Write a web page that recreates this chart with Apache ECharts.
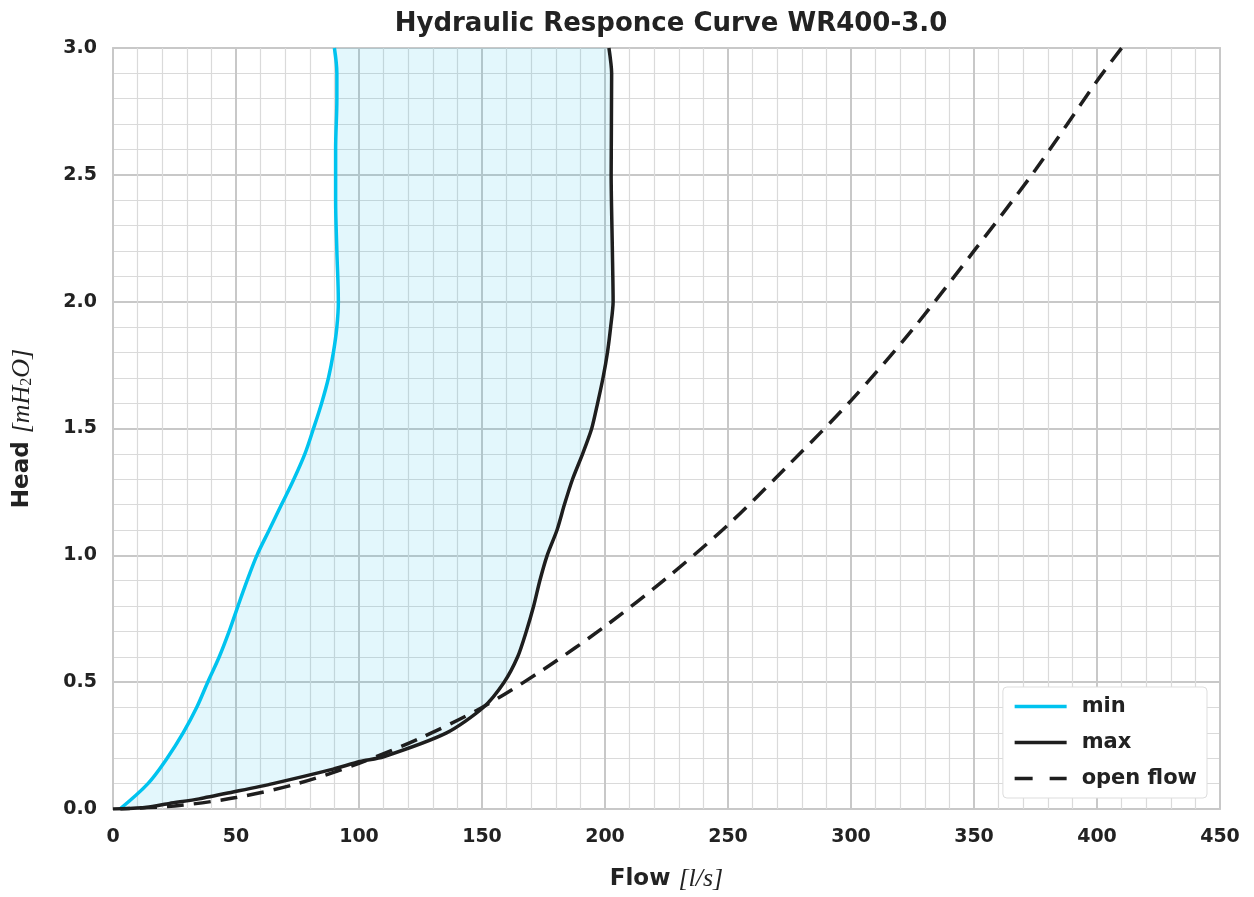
<!DOCTYPE html>
<html><head><meta charset="utf-8">
<script src="https://cdn.jsdelivr.net/npm/echarts@6/dist/echarts.min.js"></script>
<style>html,body{margin:0;padding:0;background:#fff}#c{width:1254px;height:897px}</style>
</head><body><div id="c"></div>
<script>
// min curve (flow l/s, head m)
var minFlow = [2.8, 14.2, 22, 28.5, 34, 38.5, 43.2, 47.2, 50.8, 54.5, 58.5, 63.5, 68.5, 73.5, 78, 81.5, 84.8, 87.6, 89.6, 91, 91.6, 91, 90.5, 90.5, 91, 91, 90];
var minHead = [0, 0.1, 0.2, 0.3, 0.4, 0.5, 0.6, 0.7, 0.8, 0.9, 1.0, 1.1, 1.2, 1.3, 1.4, 1.5, 1.6, 1.7, 1.8, 1.9, 2.0, 2.2, 2.4, 2.6, 2.8, 2.9, 3.0];
// max curve
var maxFlow = [3, 13.7, 23, 35, 48.8, 65, 89.5, 100.4, 110, 135.6, 150.5, 159, 164.5, 168, 171, 173.5, 176.5, 180.5, 183.5, 186.8, 190.9, 194.6, 197, 199.2, 201, 202.3, 203.3, 203, 202.5, 202.7, 201.6];
var maxHead = [0, 0.007, 0.022, 0.04, 0.067, 0.1, 0.157, 0.187, 0.206, 0.30, 0.40, 0.5, 0.6, 0.7, 0.8, 0.9, 1.0, 1.1, 1.2, 1.3, 1.4, 1.5, 1.6, 1.7, 1.8, 1.9, 2.0, 2.2, 2.5, 2.9, 3.0];
// open flow curve
var openFlow = [0, 25, 50, 75, 100, 125, 150, 175, 200, 225, 250, 275, 300, 325, 350, 375, 400, 410];
var openHead = [0, 0.012, 0.045, 0.10, 0.18, 0.28, 0.40, 0.55, 0.72, 0.91, 1.12, 1.36, 1.61, 1.89, 2.20, 2.52, 2.87, 3.0];

var xTicks = [0, 50, 100, 150, 200, 250, 300, 350, 400, 450];
var yTicks = [0.0, 0.5, 1.0, 1.5, 2.0, 2.5, 3.0];

function zip(a, b) { return a.map(function (v, i) { return [v, b[i]]; }); }

var FONT = 'DejaVu Sans';
var chart = echarts.init(document.getElementById('c'));
chart.setOption({
  backgroundColor: '#fff',
  animation: false,
  title: {
    text: 'Hydraulic Responce Curve WR400-3.0',
    left: 666, top: 6, textAlign: 'center',
    textStyle: { fontFamily: FONT, fontWeight: 'bold', fontSize: 26, color: '#222' }
  },
  grid: { left: 113, right: 34, top: 48, bottom: 87, show: true, borderColor: '#cccccc', borderWidth: 2, backgroundColor: 'transparent' },
  legend: {
    orient: 'vertical', right: 47, bottom: 99,
    data: ['min', 'max', { name: 'open flow', lineStyle: { type: [18, 17] } }],
    backgroundColor: '#fff', borderColor: '#dddddd', borderWidth: 1, borderRadius: 4,
    padding: [9, 10, 9, 10], itemGap: 15, itemWidth: 52, itemHeight: 14,
    itemStyle: { opacity: 0 },
    lineStyle: { width: 3.5 },
    textStyle: { fontFamily: FONT, fontSize: 21, fontWeight: 'bold', color: '#222', padding: [0, 0, 0, 10] }
  },
  xAxis: {
    type: 'value', min: 0, max: 450, interval: 50,
    name: '{a|Flow }{b|[l/s]}', nameLocation: 'middle', nameGap: 57,
    nameTextStyle: { rich: {
      a: { fontFamily: FONT, fontWeight: 'bold', fontSize: 23, color: '#222' },
      b: { fontFamily: 'Liberation Serif', fontStyle: 'italic', fontSize: 26, color: '#222' } } },
    axisLine: { show: false }, axisTick: { show: false },
    axisLabel: { fontFamily: FONT, fontWeight: 'bold', fontSize: 19, color: '#222', margin: 19,
      formatter: function (v) { return xTicks.indexOf(v) >= 0 ? String(v) : ''; } },
    splitLine: { show: true, lineStyle: { color: '#c8c8c8', width: 2 } },
    minorTick: { show: false, splitNumber: 5 },
    minorSplitLine: { show: true, lineStyle: { color: '#dadada', width: 1.2 } }
  },
  yAxis: {
    type: 'value', min: 0, max: 3, interval: 0.5,
    name: '{a|Head }{b|[mH}{s|2}{b|O]}', nameLocation: 'middle', nameGap: 78, nameRotate: 90,
    nameTextStyle: { rich: {
      a: { fontFamily: FONT, fontWeight: 'bold', fontSize: 23, color: '#222' },
      b: { fontFamily: 'Liberation Serif', fontStyle: 'italic', fontSize: 26, color: '#222' },
      s: { fontFamily: 'Liberation Serif', fontSize: 16, color: '#222', verticalAlign: 'bottom', padding: [10, 0, 0, 0] } } },
    axisLine: { show: false }, axisTick: { show: false },
    axisLabel: { fontFamily: FONT, fontWeight: 'bold', fontSize: 19, color: '#222', margin: 16,
      formatter: function (v) { return yTicks.indexOf(v) >= 0 ? v.toFixed(1) : ''; } },
    splitLine: { show: true, lineStyle: { color: '#c8c8c8', width: 2 } },
    minorTick: { show: false, splitNumber: 5 },
    minorSplitLine: { show: true, lineStyle: { color: '#dadada', width: 1.2 } }
  },
  series: [
    {
      type: 'custom', name: 'band', silent: true, z: 1, clip: true,
      data: [[0, 0]],
      renderItem: function (params, api) {
        var pts = [];
        var i;
        for (i = 0; i < minFlow.length; i++) pts.push(api.coord([minFlow[i], minHead[i]]));
        for (i = maxFlow.length - 1; i >= 0; i--) pts.push(api.coord([maxFlow[i], maxHead[i]]));
        return { type: 'polygon', shape: { points: pts, smooth: 0.2 }, style: { fill: 'rgba(0,185,230,0.11)' } };
      }
    },
    { type: 'line', name: 'min', data: zip(minFlow, minHead), symbol: 'none', smooth: 0.35, z: 3,
      lineStyle: { color: '#00c3ef', width: 3.5 }, itemStyle: { color: '#00c3ef' } },
    { type: 'line', name: 'max', data: zip(maxFlow, maxHead), symbol: 'none', smooth: 0.25, z: 4,
      lineStyle: { color: '#1e1e1e', width: 3.5 }, itemStyle: { color: '#1e1e1e' } },
    { type: 'line', name: 'open flow', data: zip(openFlow, openHead), symbol: 'none', smooth: 0.3, z: 3,
      lineStyle: { color: '#1e1e1e', width: 3.5, type: [17, 10] }, itemStyle: { color: '#1e1e1e' } }
  ]
});
</script></body></html>
